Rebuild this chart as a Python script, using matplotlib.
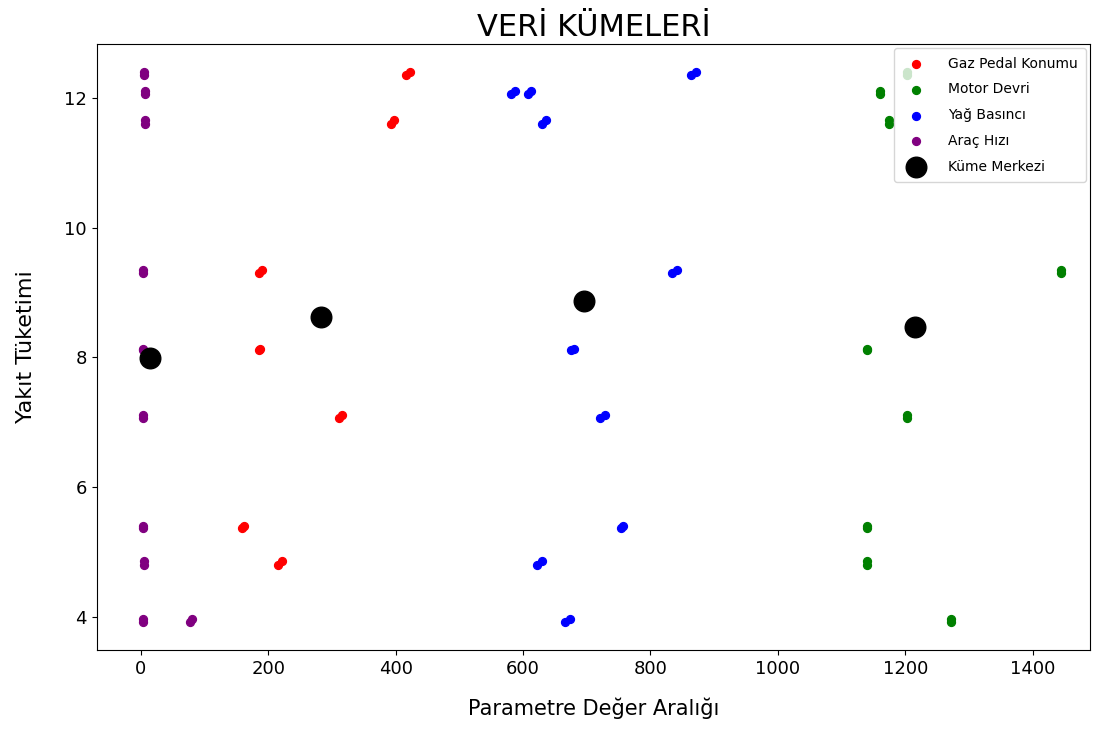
import matplotlib.pyplot as plt

# each cluster is two close readings (blobs in the picture)
gaz_x = [417, 422, 393, 398, 186, 190, 185, 188, 311, 316, 159, 162, 216, 221]
gaz_y = [12.35, 12.40, 11.60, 11.65, 9.30, 9.35, 8.11, 8.13, 7.07, 7.12, 5.38, 5.41, 4.81, 4.86]

motor_x = [1203, 1203, 1160, 1160, 1174, 1174, 1444, 1444, 1139, 1139, 1203, 1203, 1139, 1139, 1139, 1139, 1271, 1271]
motor_y = [12.35, 12.40, 12.05, 12.10, 11.60, 11.65, 9.30, 9.35, 8.11, 8.13, 7.07, 7.12, 5.38, 5.41, 4.81, 4.86, 3.92, 3.97]

yag_x = [863, 871, 581, 587, 607, 613, 629, 636, 833, 841, 675, 680, 720, 728, 753, 757, 622, 630, 666, 674]
yag_y = [12.35, 12.40, 12.05, 12.10, 12.05, 12.10, 11.60, 11.65, 9.30, 9.35, 8.11, 8.13, 7.07, 7.12, 5.38, 5.41, 4.81, 4.86, 3.92, 3.97]

hiz_x = [5, 5, 6, 6, 6, 6, 4, 4, 4, 4, 4, 4, 4, 4, 5, 5, 4, 4, 77, 81]
hiz_y = [12.35, 12.40, 12.05, 12.10, 11.60, 11.65, 9.30, 9.35, 8.11, 8.13, 7.07, 7.12, 5.38, 5.41, 4.81, 4.86, 3.92, 3.97, 3.92, 3.97]

merkez_x = [14, 283, 696, 1215]
merkez_y = [7.99, 8.63, 8.87, 8.47]

fig = plt.figure(figsize=(10.99, 7.36), dpi=100)
ax = fig.add_axes([0.088, 0.117, 0.904, 0.823])

ax.scatter(gaz_x, gaz_y, c='red', s=32, label='Gaz Pedal Konumu')
ax.scatter(motor_x, motor_y, c='green', s=32, label='Motor Devri')
ax.scatter(yag_x, yag_y, c='blue', s=32, label='Yağ Basıncı')
ax.scatter(hiz_x, hiz_y, c='purple', s=32, label='Araç Hızı')
ax.scatter(merkez_x, merkez_y, c='black', s=220, label='Küme Merkezi')

ax.set_xlim(-69, 1490)
ax.set_title('VERİ KÜMELERİ', fontsize=22)
ax.set_xlabel('Parametre Değer Aralığı', fontsize=15, labelpad=14)
ax.set_ylabel('Yakıt Tüketimi', fontsize=16, labelpad=20)
ax.tick_params(labelsize=13)
ax.legend(loc='upper right', fontsize=10, labelspacing=0.85, borderpad=0.6,
          handletextpad=1.3, borderaxespad=0.3)

fig.savefig('out.png', dpi=100)
